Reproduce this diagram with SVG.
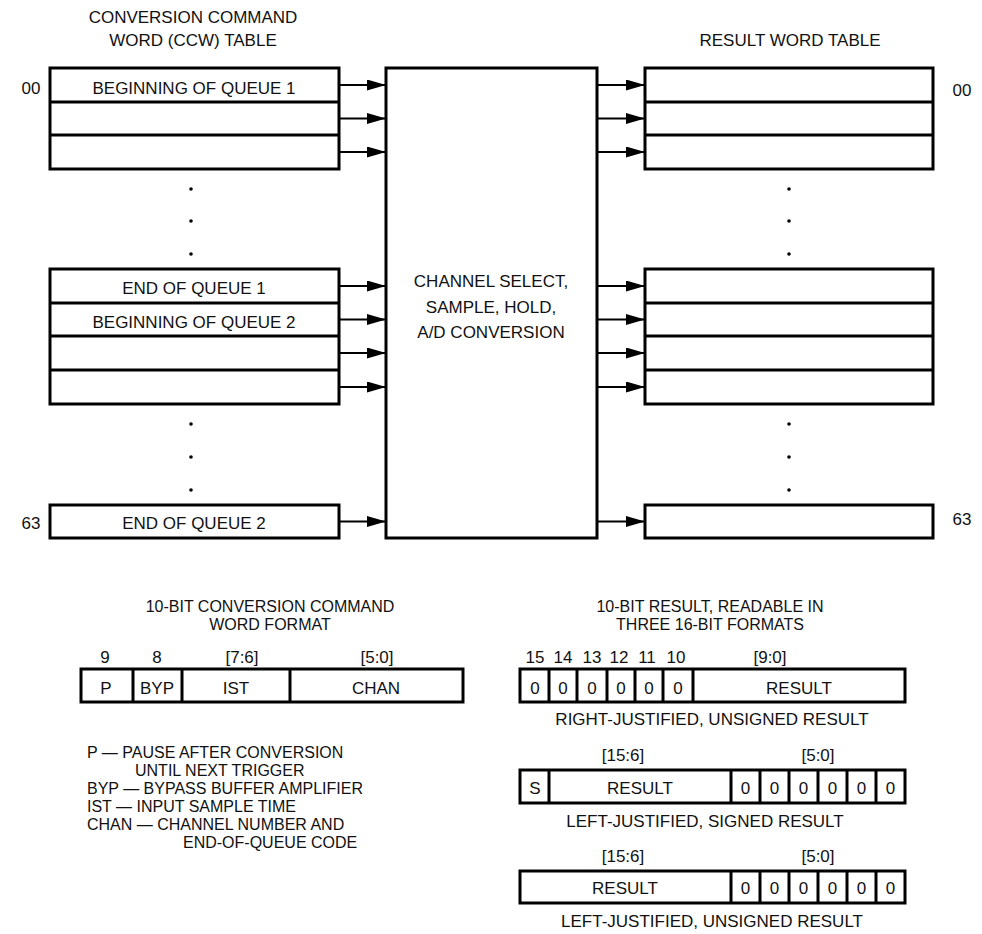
<svg xmlns="http://www.w3.org/2000/svg" width="982" height="934" viewBox="0 0 982 934">
<defs>
<marker id="ah" markerUnits="userSpaceOnUse" markerWidth="19" markerHeight="11" refX="19" refY="5.5" orient="auto">
<path d="M0,0 L19,5.5 L0,11 Z" fill="#000"/>
</marker>
</defs>
<style>
text{font-family:"Liberation Sans",Arial,sans-serif;font-size:17px;fill:#111}
.c{text-anchor:middle}
.s{font-size:16px}
.box{fill:#fff;stroke:#000;stroke-width:3}
.ln{stroke:#000;stroke-width:3;fill:none}
.con{stroke:#000;stroke-width:2;fill:none;marker-end:url(#ah)}
.dot{fill:#000}
</style>
<rect width="982" height="934" fill="#fff"/>

<g id="ccw-title">
<text class="c" x="193" y="23">CONVERSION COMMAND</text>
<text class="c" x="193" y="46">WORD (CCW) TABLE</text>
</g>
<g id="result-title">
<text class="c" x="790" y="46">RESULT WORD TABLE</text>
</g>

<g id="ccw-table">
<rect class="box" x="50" y="68" width="289" height="101"/>
<line class="ln" x1="50" y1="102" x2="339" y2="102"/>
<line class="ln" x1="50" y1="135" x2="339" y2="135"/>
<text class="c" x="194" y="94">BEGINNING OF QUEUE 1</text>
<text x="31" y="94" class="c">00</text>
<circle class="dot" cx="191" cy="189" r="1.8"/>
<circle class="dot" cx="191" cy="221" r="1.8"/>
<circle class="dot" cx="191" cy="254" r="1.8"/>
<rect class="box" x="50" y="269" width="289" height="135"/>
<line class="ln" x1="50" y1="303" x2="339" y2="303"/>
<line class="ln" x1="50" y1="336" x2="339" y2="336"/>
<line class="ln" x1="50" y1="370" x2="339" y2="370"/>
<text class="c" x="194" y="294">END OF QUEUE 1</text>
<text class="c" x="194" y="328">BEGINNING OF QUEUE 2</text>
<circle class="dot" cx="191" cy="424" r="1.8"/>
<circle class="dot" cx="191" cy="457" r="1.8"/>
<circle class="dot" cx="191" cy="490" r="1.8"/>
<rect class="box" x="50" y="505" width="289" height="33"/>
<text class="c" x="194" y="529">END OF QUEUE 2</text>
<text x="31" y="529" class="c">63</text>
</g>

<g id="converter">
<rect class="box" x="386" y="68" width="211" height="470"/>
<text class="c" x="491" y="287">CHANNEL SELECT,</text>
<text class="c" x="491" y="313">SAMPLE, HOLD,</text>
<text class="c" x="491" y="338">A/D CONVERSION</text>
</g>

<g id="result-table">
<rect class="box" x="645" y="68" width="288" height="101"/>
<line class="ln" x1="645" y1="102" x2="933" y2="102"/>
<line class="ln" x1="645" y1="135" x2="933" y2="135"/>
<text x="962" y="96" class="c">00</text>
<circle class="dot" cx="789" cy="189" r="1.8"/>
<circle class="dot" cx="789" cy="221" r="1.8"/>
<circle class="dot" cx="789" cy="254" r="1.8"/>
<rect class="box" x="645" y="269" width="288" height="135"/>
<line class="ln" x1="645" y1="303" x2="933" y2="303"/>
<line class="ln" x1="645" y1="336" x2="933" y2="336"/>
<line class="ln" x1="645" y1="370" x2="933" y2="370"/>
<circle class="dot" cx="789" cy="424" r="1.8"/>
<circle class="dot" cx="789" cy="457" r="1.8"/>
<circle class="dot" cx="789" cy="490" r="1.8"/>
<rect class="box" x="645" y="505" width="288" height="33"/>
<text x="962" y="525" class="c">63</text>
</g>

<g id="connectors">
<line class="con" x1="339" y1="85" x2="386" y2="85"/>
<line class="con" x1="339" y1="118.5" x2="386" y2="118.5"/>
<line class="con" x1="339" y1="152" x2="386" y2="152"/>
<line class="con" x1="339" y1="286" x2="386" y2="286"/>
<line class="con" x1="339" y1="319.5" x2="386" y2="319.5"/>
<line class="con" x1="339" y1="353" x2="386" y2="353"/>
<line class="con" x1="339" y1="387" x2="386" y2="387"/>
<line class="con" x1="339" y1="521.5" x2="386" y2="521.5"/>
<line class="con" x1="597" y1="85" x2="645" y2="85"/>
<line class="con" x1="597" y1="118.5" x2="645" y2="118.5"/>
<line class="con" x1="597" y1="152" x2="645" y2="152"/>
<line class="con" x1="597" y1="286" x2="645" y2="286"/>
<line class="con" x1="597" y1="319.5" x2="645" y2="319.5"/>
<line class="con" x1="597" y1="353" x2="645" y2="353"/>
<line class="con" x1="597" y1="387" x2="645" y2="387"/>
<line class="con" x1="597" y1="521.5" x2="645" y2="521.5"/>
</g>

<g id="ccw-format">
<text class="c s" x="270" y="612">10-BIT CONVERSION COMMAND</text>
<text class="c s" x="270" y="630">WORD FORMAT</text>
<text class="c" x="105" y="663">9</text>
<text class="c" x="157" y="663">8</text>
<text class="c" x="242" y="663">[7:6]</text>
<text class="c" x="377" y="663">[5:0]</text>
<rect class="box" x="81" y="669" width="382" height="33"/>
<line class="ln" x1="133" y1="669" x2="133" y2="702"/>
<line class="ln" x1="182" y1="669" x2="182" y2="702"/>
<line class="ln" x1="290" y1="669" x2="290" y2="702"/>
<text class="c" x="106" y="694">P</text>
<text class="c" x="157" y="694">BYP</text>
<text class="c" x="236" y="694">IST</text>
<text class="c" x="376" y="694">CHAN</text>
</g>

<g id="legend">
<text class="s" x="87" y="758">P — PAUSE AFTER CONVERSION</text>
<text class="s" x="135" y="776">UNTIL NEXT TRIGGER</text>
<text class="s" x="87" y="794">BYP — BYPASS BUFFER AMPLIFIER</text>
<text class="s" x="87" y="812">IST — INPUT SAMPLE TIME</text>
<text class="s" x="87" y="830">CHAN — CHANNEL NUMBER AND</text>
<text class="s" x="183" y="848">END-OF-QUEUE CODE</text>
</g>

<g id="result-format-title">
<text class="c s" x="710" y="612">10-BIT RESULT, READABLE IN</text>
<text class="c s" x="710" y="630">THREE 16-BIT FORMATS</text>
</g>

<g id="right-justified">
<text class="c" x="535" y="663">15</text>
<text class="c" x="563" y="663">14</text>
<text class="c" x="592" y="663">13</text>
<text class="c" x="619" y="663">12</text>
<text class="c" x="647" y="663">11</text>
<text class="c" x="676" y="663">10</text>
<text class="c" x="770" y="663">[9:0]</text>
<rect class="box" x="520" y="669" width="385" height="33"/>
<line class="ln" x1="549" y1="669" x2="549" y2="702"/>
<line class="ln" x1="577" y1="669" x2="577" y2="702"/>
<line class="ln" x1="607" y1="669" x2="607" y2="702"/>
<line class="ln" x1="635" y1="669" x2="635" y2="702"/>
<line class="ln" x1="663" y1="669" x2="663" y2="702"/>
<line class="ln" x1="693" y1="669" x2="693" y2="702"/>
<text class="c" x="535" y="694">0</text>
<text class="c" x="563" y="694">0</text>
<text class="c" x="592" y="694">0</text>
<text class="c" x="621" y="694">0</text>
<text class="c" x="649" y="694">0</text>
<text class="c" x="678" y="694">0</text>
<text class="c" x="799" y="694">RESULT</text>
<text class="c" x="712" y="725">RIGHT-JUSTIFIED, UNSIGNED RESULT</text>
</g>

<g id="left-signed">
<text class="c" x="623" y="761">[15:6]</text>
<text class="c" x="818" y="761">[5:0]</text>
<rect class="box" x="520" y="770" width="385" height="33"/>
<line class="ln" x1="549" y1="770" x2="549" y2="803"/>
<line class="ln" x1="731" y1="770" x2="731" y2="803"/>
<line class="ln" x1="760" y1="770" x2="760" y2="803"/>
<line class="ln" x1="789" y1="770" x2="789" y2="803"/>
<line class="ln" x1="818" y1="770" x2="818" y2="803"/>
<line class="ln" x1="847" y1="770" x2="847" y2="803"/>
<line class="ln" x1="876" y1="770" x2="876" y2="803"/>
<text class="c" x="535" y="794">S</text>
<text class="c" x="640" y="794">RESULT</text>
<text class="c" x="745.5" y="794">0</text>
<text class="c" x="774.5" y="794">0</text>
<text class="c" x="803.5" y="794">0</text>
<text class="c" x="832.5" y="794">0</text>
<text class="c" x="861.5" y="794">0</text>
<text class="c" x="890.5" y="794">0</text>
<text class="c" x="705" y="827">LEFT-JUSTIFIED, SIGNED RESULT</text>
</g>

<g id="left-unsigned">
<text class="c" x="623" y="862">[15:6]</text>
<text class="c" x="818" y="862">[5:0]</text>
<rect class="box" x="520" y="871" width="385" height="32"/>
<line class="ln" x1="731" y1="871" x2="731" y2="903"/>
<line class="ln" x1="760" y1="871" x2="760" y2="903"/>
<line class="ln" x1="789" y1="871" x2="789" y2="903"/>
<line class="ln" x1="818" y1="871" x2="818" y2="903"/>
<line class="ln" x1="847" y1="871" x2="847" y2="903"/>
<line class="ln" x1="876" y1="871" x2="876" y2="903"/>
<text class="c" x="625" y="894">RESULT</text>
<text class="c" x="745.5" y="894">0</text>
<text class="c" x="774.5" y="894">0</text>
<text class="c" x="803.5" y="894">0</text>
<text class="c" x="832.5" y="894">0</text>
<text class="c" x="861.5" y="894">0</text>
<text class="c" x="890.5" y="894">0</text>
<text class="c" x="712" y="927">LEFT-JUSTIFIED, UNSIGNED RESULT</text>
</g>
</svg>
